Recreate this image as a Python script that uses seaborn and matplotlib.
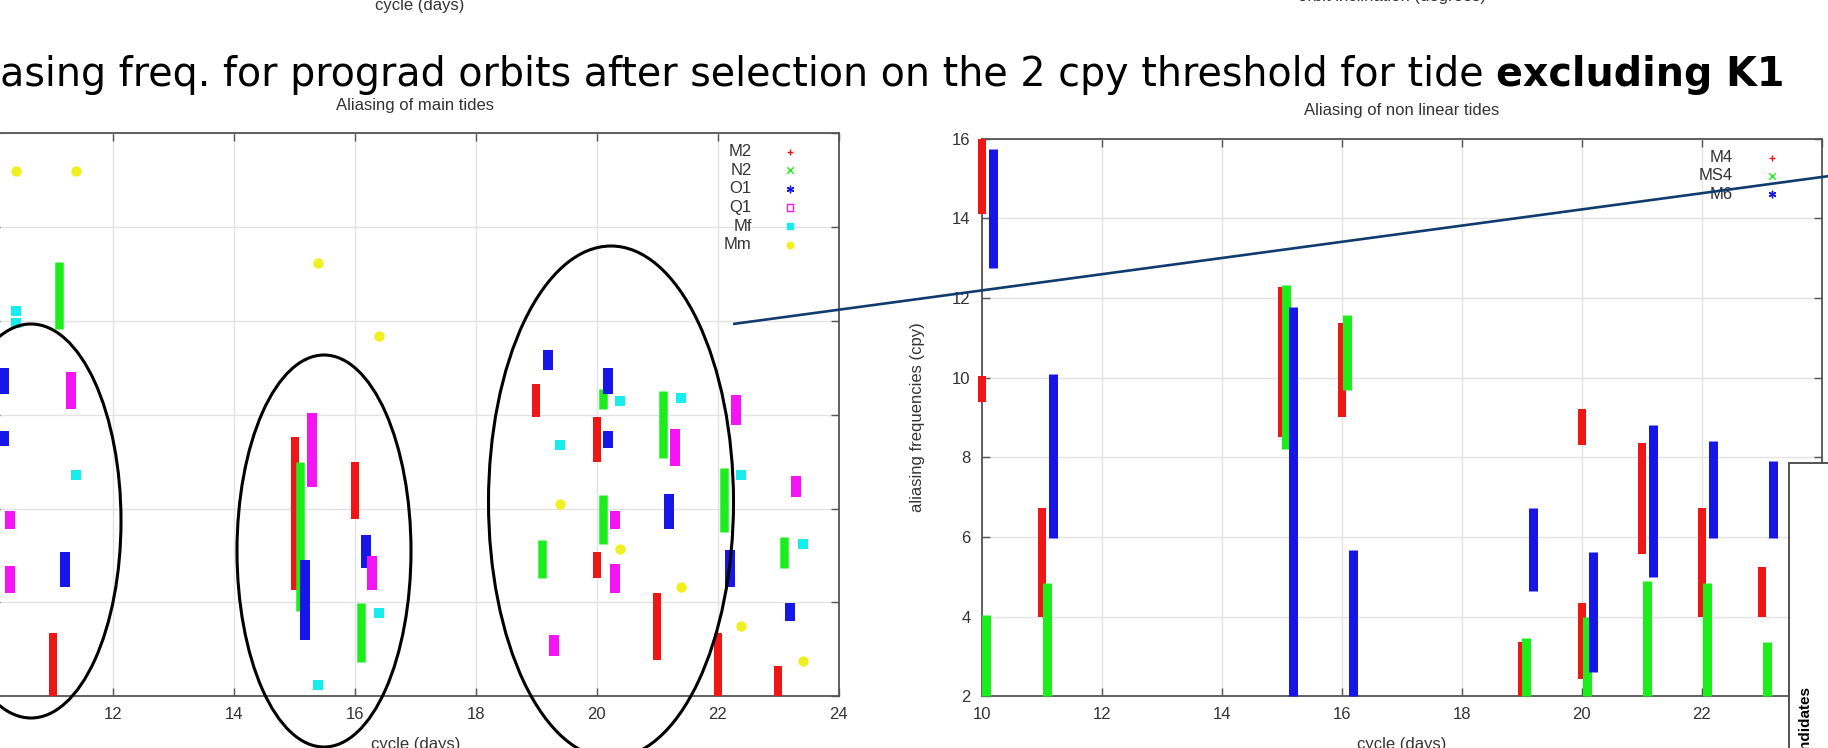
import matplotlib
matplotlib.use("Agg")
import matplotlib.pyplot as plt
from matplotlib.patches import Ellipse, Rectangle
import seaborn as sns

# ---------------- main tides (left panel) ----------------
# vertical runs of aliasing frequency (cpy) for each repeat cycle (days)
m2_cycle = [11.0, 15.0, 16.0, 19.0, 20.0, 20.0, 21.0, 22.0, 23.0]
m2_lo = [2.0, 4.27, 5.78, 7.95, 6.99, 4.53, 2.77, 2.0, 2.0]
m2_hi = [3.35, 7.53, 6.99, 8.66, 7.95, 5.07, 4.19, 3.35, 2.64]

n2_cycle = [10.1, 10.1, 11.1, 15.09, 16.1, 19.09, 20.1, 20.1, 21.1, 22.1, 23.1]
n2_lo = [5.24, 8.2, 9.83, 3.81, 2.73, 4.52, 8.12, 5.24, 7.08, 5.49, 4.73]
n2_hi = [6.24, 8.4, 11.26, 6.99, 3.98, 5.32, 8.54, 6.28, 8.5, 6.87, 5.40]

o1_cycle = [10.19, 10.19, 11.2, 15.18, 16.19, 19.2, 20.19, 20.19, 21.2, 22.2, 23.2]
o1_lo = [8.45, 7.33, 4.32, 3.19, 4.73, 8.96, 8.45, 7.28, 5.57, 4.32, 3.60]
o1_hi = [9.0, 7.66, 5.07, 4.90, 5.44, 9.37, 9.0, 7.66, 6.32, 5.11, 3.98]

q1_cycle = [10.3, 10.3, 11.3, 15.29, 16.29, 19.29, 20.3, 20.3, 21.3, 22.3, 23.3]
q1_lo = [5.57, 4.19, 8.12, 6.45, 4.27, 2.85, 5.57, 4.19, 6.91, 7.79, 6.24]
q1_hi = [5.95, 4.78, 8.91, 8.04, 4.98, 3.31, 5.95, 4.82, 7.70, 8.43, 6.70]

mf_cycle = [10.39, 10.39, 11.39, 15.39, 16.4, 19.39, 20.38, 21.39, 22.39, 23.41]
mf_freq = [9.95, 10.2, 6.72, 2.23, 3.77, 7.35, 8.29, 8.35, 6.72, 5.24]

mm_cycle = [10.39, 11.39, 15.39, 16.4, 19.39, 20.38, 21.39, 22.39, 23.41]
mm_freq = [13.2, 13.2, 11.23, 9.68, 6.10, 5.14, 4.32, 3.50, 2.74]

# ---------------- non linear tides (right panel) ----------------
m4_cycle = [10.0, 10.0, 11.0, 15.0, 16.0, 19.0, 20.0, 20.0, 21.0, 22.0, 23.0]
m4_lo = [14.1, 9.4, 4.0, 8.5, 9.0, 2.0, 2.42, 8.3, 5.58, 4.0, 4.0]
m4_hi = [16.0, 10.04, 6.72, 12.27, 11.38, 3.36, 4.35, 9.2, 8.36, 6.72, 5.24]

ms4_cycle = [10.07, 11.08, 15.07, 16.08, 19.07, 20.08, 21.08, 22.08, 23.08]
ms4_lo = [2.0, 2.0, 8.21, 9.69, 2.0, 2.0, 2.0, 2.0, 2.0]
ms4_hi = [4.05, 4.84, 12.32, 11.57, 3.46, 4.0, 4.89, 4.84, 3.36]

m6_cycle = [10.19, 11.19, 15.19, 16.19, 19.18, 20.18, 21.19, 22.18, 23.18]
m6_lo = [12.76, 5.98, 2.0, 2.0, 4.64, 2.61, 4.99, 5.98, 5.98]
m6_hi = [15.73, 10.09, 11.77, 5.68, 6.72, 5.63, 8.8, 8.4, 7.91]

cycle_ticks = [10, 12, 14, 16, 18, 20, 22, 24]
left_freq_ticks = [2, 4, 6, 8, 10, 12, 14]
right_freq_ticks = [2, 4, 6, 8, 10, 12, 14, 16]

main_labels = ["M2", "N2", "O1", "Q1", "Mf", "Mm"]
nonlin_labels = ["M4", "MS4", "M6"]

RED, GREEN, BLUE = "#f01616", "#1cee1c", "#1616e8"
MAGENTA, CYAN, YELLOW = "#f414f4", "#16eeee", "#f0f020"
TXT = "#333333"
ASTERISK = (6, 2, 0)

sns.set_theme(style="white")
plt.rcParams["font.family"] = ["Liberation Sans", "DejaVu Sans"]

W, H, DPI = 1828, 748, 100
fig = plt.figure(figsize=(W / DPI, H / DPI), dpi=DPI)
fig.patch.set_facecolor("white")

LEFT_BOX = (-7.7, 838.5, 133.2, 696.2)     # x0, x1, ytop, ybottom in pixels
RIGHT_BOX = (981.7, 1821.7, 138.7, 696.2)


def px_axes(box):
    x0, x1, yt, yb = box
    return fig.add_axes([x0 / W, 1 - yb / H, (x1 - x0) / W, (yb - yt) / H])


def style(ax, yticks):
    ax.set_xlim(cycle_ticks[0], cycle_ticks[-1])
    ax.set_ylim(yticks[0], yticks[-1])
    ax.set_xticks(cycle_ticks)
    ax.set_yticks(yticks)
    ax.set_facecolor("white")
    ax.grid(True, color="#e3e3e3", lw=1.0)
    ax.set_axisbelow(True)
    for s in ax.spines.values():
        s.set_color("#555555")
        s.set_linewidth(1.3)
        s.set_visible(True)
    ax.tick_params(direction="in", length=5.5, width=1, color="#555555",
                   top=True, right=True, bottom=True, left=True,
                   labelsize=12, labelcolor=TXT, pad=8)


def runs(ax, cycles, lo, hi, color, width_px):
    ax.vlines(cycles, lo, hi, colors=color, linewidth=width_px * 0.72,
              capstyle="butt", clip_on=False, zorder=3)


def key(ax, box, entries, text_x, marker_x, y0, dy):
    x0, x1, yt, yb = box
    for i, (label, marker, face, edge) in enumerate(entries):
        y = y0 + i * dy
        fy = 1 - (y - yt) / (yb - yt)
        ax.text((text_x - x0) / (x1 - x0), fy, label, transform=ax.transAxes,
                ha="right", va="center", fontsize=12, color=TXT)
        ax.scatter([(marker_x - x0) / (x1 - x0)], [fy], transform=ax.transAxes,
                   marker=marker, s=22, facecolors=face, edgecolors=edge,
                   linewidths=1.0, clip_on=False, zorder=4)


# ---------- left panel ----------
ax1 = px_axes(LEFT_BOX)
style(ax1, left_freq_ticks)
ax1.tick_params(labelleft=False)
runs(ax1, m2_cycle, m2_lo, m2_hi, RED, 8)
runs(ax1, n2_cycle, n2_lo, n2_hi, GREEN, 8.5)
runs(ax1, o1_cycle, o1_lo, o1_hi, BLUE, 10)
runs(ax1, q1_cycle, q1_lo, q1_hi, MAGENTA, 10)
sns.scatterplot(x=mf_cycle, y=mf_freq, color=CYAN, marker="s", s=44,
                linewidth=0, ax=ax1, zorder=3, legend=False, clip_on=False)
sns.scatterplot(x=mm_cycle, y=mm_freq, color=YELLOW, marker="o", s=56,
                linewidth=0, ax=ax1, zorder=3, legend=False, clip_on=False)
ax1.text(0.5, 1 + (LEFT_BOX[2] - 110) / (LEFT_BOX[3] - LEFT_BOX[2]),
         "Aliasing of main tides", transform=ax1.transAxes,
         ha="center", va="baseline", fontsize=12, color=TXT)
ax1.set_xlabel("cycle (days)", fontsize=12, color=TXT)
ax1.xaxis.set_label_coords(0.5, -(737 - LEFT_BOX[3]) / (LEFT_BOX[3] - LEFT_BOX[2]))
key(ax1, LEFT_BOX,
    [(main_labels[0], "+", RED, RED), (main_labels[1], "x", GREEN, GREEN),
     (main_labels[2], ASTERISK, BLUE, BLUE), (main_labels[3], "s", "none", MAGENTA),
     (main_labels[4], "s", CYAN, CYAN), (main_labels[5], "o", YELLOW, YELLOW)],
    751.7, 790, 151.7, 18.6)

# ---------- right panel ----------
ax2 = px_axes(RIGHT_BOX)
style(ax2, right_freq_ticks)
runs(ax2, m4_cycle, m4_lo, m4_hi, RED, 8)
runs(ax2, ms4_cycle, ms4_lo, ms4_hi, GREEN, 9)
runs(ax2, m6_cycle, m6_lo, m6_hi, BLUE, 9)
ax2.text(0.5, 1 + (RIGHT_BOX[2] - 115) / (RIGHT_BOX[3] - RIGHT_BOX[2]),
         "Aliasing of non linear tides", transform=ax2.transAxes,
         ha="center", va="baseline", fontsize=12, color=TXT)
ax2.set_xlabel("cycle (days)", fontsize=12, color=TXT)
ax2.xaxis.set_label_coords(0.5, -(737 - RIGHT_BOX[3]) / (RIGHT_BOX[3] - RIGHT_BOX[2]))
ax2.set_ylabel("aliasing frequencies (cpy)", fontsize=12, color=TXT)
ax2.yaxis.set_label_coords(-(RIGHT_BOX[0] - 925) / (RIGHT_BOX[1] - RIGHT_BOX[0]), 0.5)
key(ax2, RIGHT_BOX,
    [(nonlin_labels[0], "+", RED, RED), (nonlin_labels[1], "x", GREEN, GREEN),
     (nonlin_labels[2], ASTERISK, BLUE, BLUE)],
    1733, 1771.7, 157.6, 18.4)

# ---------- slide texts ----------
fig.text(420 / W, 1 - 10 / H, "cycle (days)", ha="center", va="baseline",
         fontsize=12, color=TXT)
fig.text(1392 / W, 1 - 1.5 / H, "orbit inclination (degrees)", ha="center",
         va="baseline", fontsize=12, color=TXT)

head_plain = "Aliasing freq. for prograd orbits after selection on the 2 cpy threshold for tide"
head_bold = "excluding K1"
head_fs = 24.5
renderer = fig.canvas.get_renderer()


def text_w(s, fs, weight="normal"):
    t = fig.text(0, 0, s, fontsize=fs, family="DejaVu Sans", fontweight=weight)
    w = t.get_window_extent(renderer).width
    t.remove()
    return w


def head_width(fs):
    return (text_w(head_plain, fs) - text_w("Ali", fs)
            + 0.318 * fs * DPI / 72 + text_w(head_bold, fs, "bold"))


head_fs = head_fs * 1785 / head_width(head_fs)
x_start = -text_w("Ali", head_fs)
fig.text(x_start / W, 1 - 86 / H, head_plain, fontsize=head_fs,
         family="DejaVu Sans", ha="left", va="baseline", color="black")
x_bold = x_start + text_w(head_plain, head_fs) + 0.318 * head_fs * DPI / 72
fig.text(x_bold / W, 1 - 86 / H, head_bold, fontsize=head_fs, family="DejaVu Sans",
         fontweight="bold", ha="left", va="baseline", color="black")

# ---------- annotation layer (pixel coordinates) ----------
ov = fig.add_axes([0, 0, 1, 1], zorder=20)
ov.set_xlim(0, W)
ov.set_ylim(H, 0)
ov.axis("off")
ov.patch.set_alpha(0)

groups = [(31, 521, 90, 197), (324, 551, 87, 196), (611, 502, 122.5, 256)]
for cx, cy, rx, ry in groups:
    ov.add_patch(Ellipse((cx, cy), 2 * rx, 2 * ry, fill=False, ec="black",
                         lw=2.2, clip_on=False))

link_start, link_slope = (733, 324), -0.135
ov.plot([link_start[0], W + 5],
        [link_start[1], link_start[1] + link_slope * (W + 5 - link_start[0])],
        color="#0f3c6e", lw=1.9, solid_capstyle="butt")

ov.add_patch(Rectangle((1789, 463), 80, 320, fc="white", ec="#444444", lw=1.3,
                       clip_on=False))
ov.text(1805, 686, "candidates", rotation=90, ha="center", va="top",
        fontsize=11, fontweight="bold", color="black")

fig.savefig("out.png", dpi=DPI)
